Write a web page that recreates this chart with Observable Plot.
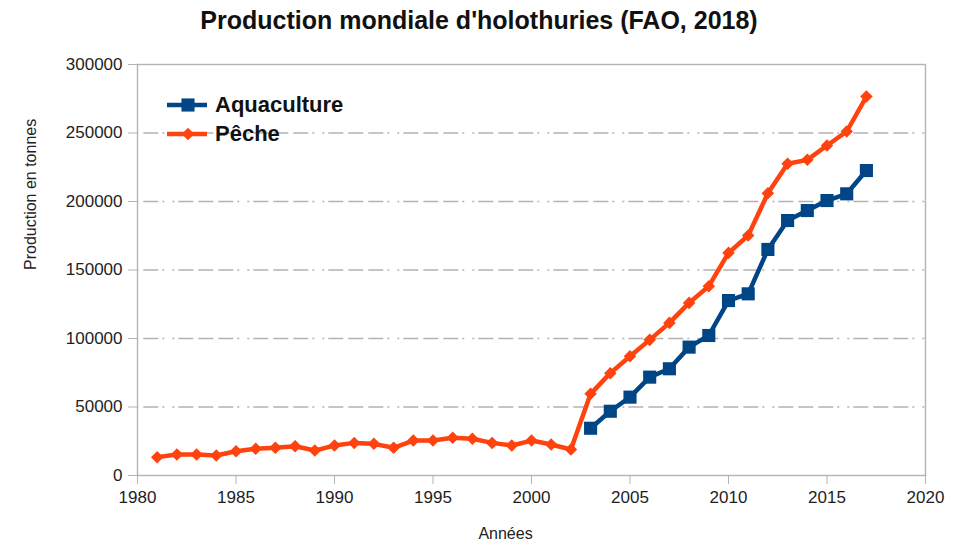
<!DOCTYPE html>
<html lang="fr">
<head>
<meta charset="utf-8">
<script src="https://cdn.jsdelivr.net/npm/d3@7"></script>
<script src="https://cdn.jsdelivr.net/npm/@observablehq/plot@0.6"></script>
<style>
  html, body { margin: 0; padding: 0; background: #fff; }
  #wrap { position: relative; width: 958px; height: 542px; font-family: "Liberation Sans", Arial, sans-serif; color: #222; }
  #title { height: 40px; margin: 0; text-align: center; font-size: 25px; font-weight: bold; line-height: 40px; color: #111; padding-left: 0; }
  #legend { position: absolute; left: 166px; top: 90px; }
  .item { display: flex; align-items: center; height: 29px; font-size: 22px; font-weight: bold; color: #111; }
  .item svg { margin-right: 7px; }
</style>
</head>
<body>
<div id="wrap">
  <div id="title">Production mondiale d'holothuries (FAO, 2018)</div>
  <div id="chart"></div>
  <div id="legend"></div>
</div>
<script>
// Production de pêche (tonnes), 1981–2017
const pecheYears = [1981, 1982, 1983, 1984, 1985, 1986, 1987, 1988, 1989, 1990,
  1991, 1992, 1993, 1994, 1995, 1996, 1997, 1998, 1999, 2000, 2001, 2002,
  2003, 2004, 2005, 2006, 2007, 2008, 2009, 2010, 2011, 2012, 2013, 2014, 2015, 2016, 2017];
const pecheValues = [13400, 15300, 15300, 14600, 17700, 19500, 20200, 21400, 18200, 21900,
  23800, 23100, 20200, 25500, 25500, 27500, 26800, 23800, 21900, 25500, 22600, 19000,
  59600, 74700, 87100, 99000, 111400, 126000, 138200, 162500, 175200, 206000, 227500, 230400, 240900, 251100, 276600];

// Production d'aquaculture (tonnes), 2003–2017
const aquaYears = [2003, 2004, 2005, 2006, 2007, 2008, 2009, 2010, 2011, 2012, 2013, 2014, 2015, 2016, 2017];
const aquaValues = [34500, 46900, 57200, 71800, 77900, 93700, 102200, 127700, 132600, 165000, 186100, 193400, 200700, 205600, 222600];

const xTicks = [1980, 1985, 1990, 1995, 2000, 2005, 2010, 2015, 2020];
const yTicks = [0, 50000, 100000, 150000, 200000, 250000, 300000];

const series = [
  {name: "Aquaculture", color: "#004586", symbol: "square", r: 7.4, rotate: 0},
  {name: "Pêche", color: "#ff420e", symbol: "square", r: 5, rotate: 45}
];

const peche = pecheYears.map((year, i) => ({year, value: pecheValues[i]}));
const aqua = aquaYears.map((year, i) => ({year, value: aquaValues[i]}));

const gridColor = "#b3b3b3";

const chart = Plot.plot({
  width: 958,
  height: 502,
  marginLeft: 137,
  marginRight: 33,
  marginTop: 24,
  marginBottom: 67,
  style: {fontFamily: "Liberation Sans, Arial, sans-serif", fontSize: "17px", color: "#1e1e1e", background: "#fff"},
  x: {domain: [1980, 2020]},
  y: {domain: [0, 300000]},
  marks: [
    Plot.gridY(yTicks.filter(t => t > 0 && t < 300000), {
      stroke: gridColor, strokeOpacity: 1, strokeWidth: 1.4,
      strokeDasharray: "15 5 15 5 15 4 2 8 2 4", strokeDashoffset: 33.7
    }),
    Plot.frame({stroke: gridColor, strokeWidth: 1.4}),
    Plot.axisX({ticks: xTicks, tickFormat: d => String(d), tickSize: 9, tickPadding: 6, stroke: gridColor, label: null}),
    Plot.axisY({ticks: yTicks, tickFormat: d => String(d), tickSize: 9, tickPadding: 6, stroke: gridColor, label: null}),
    Plot.text(["Années"], {text: d => d, frameAnchor: "bottom", dx: -26, dy: 63, fontSize: 16, fill: "#222"}),
    Plot.text(["Production en tonnes"], {text: d => d, frameAnchor: "left", rotate: -90, dx: -107, fontSize: 16, fill: "#222"}),
    Plot.line(aqua, {x: "year", y: "value", stroke: series[0].color, strokeWidth: 4.5}),
    Plot.dot(aqua, {x: "year", y: "value", symbol: "square", r: series[0].r, fill: series[0].color}),
    Plot.line(peche, {x: "year", y: "value", stroke: series[1].color, strokeWidth: 4.5}),
    Plot.dot(peche, {x: "year", y: "value", symbol: "square", r: series[1].r, rotate: 45, fill: series[1].color})
  ]
});
document.getElementById("chart").appendChild(chart);

// Légende : trait + marqueur pour chaque série
const legend = d3.select("#legend");
for (const s of series) {
  const item = legend.append("div").attr("class", "item");
  const sw = item.append("svg").attr("width", 42).attr("height", 16);
  sw.append("line").attr("x1", 1).attr("x2", 41).attr("y1", 8).attr("y2", 8)
    .attr("stroke", s.color).attr("stroke-width", 4.5);
  const side = s.r * Math.sqrt(Math.PI);
  sw.append("rect").attr("x", 22 - side / 2).attr("y", 8 - side / 2)
    .attr("width", side).attr("height", side).attr("fill", s.color)
    .attr("transform", `rotate(${s.rotate} 22 8)`);
  item.append("span").text(s.name);
}
</script>
</body>
</html>
